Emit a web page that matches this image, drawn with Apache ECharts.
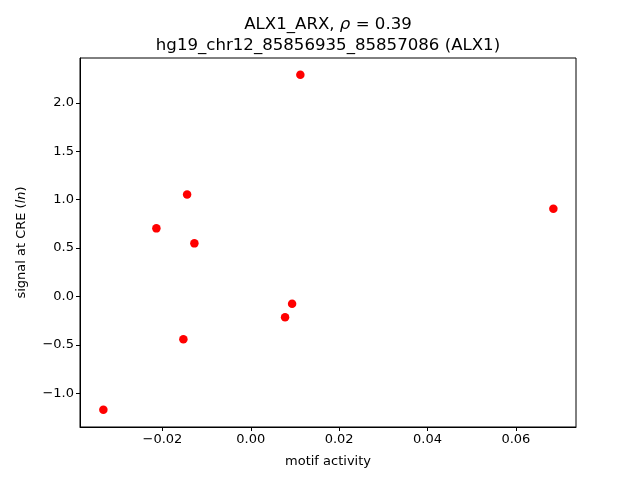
<!DOCTYPE html>
<html>
<head>
<meta charset="utf-8">
<script src="https://cdn.jsdelivr.net/npm/echarts@6/dist/echarts.min.js"></script>
<style>
  html, body { margin: 0; padding: 0; background: #fff; }
  #chart { width: 640px; height: 480px; }
</style>
</head>
<body>
<div id="chart"></div>
<script>
// motif activity vs signal at CRE
const motifActivity = [-0.03336, -0.02136, -0.01441, -0.01525, -0.01276, 0.00776, 0.00935, 0.01122, 0.06848];
const creSignal = [-1.171, 0.704, 1.055, -0.442, 0.549, -0.215, -0.074, 2.293, 0.906];
const xTicks = [-0.02, 0.00, 0.02, 0.04, 0.06];
const yTicks = [-1.0, -0.5, 0.0, 0.5, 1.0, 1.5, 2.0];

const font = "DejaVu Sans";
const minus = s => s.replace('-', '\u2212');

const option = {
  animation: false,
  textStyle: { fontFamily: font },
  title: {
    text: '{n|ALX1_ARX, }{i|ρ}{n| = 0.39}\n{n|hg19_chr12_85856935_85857086 (ALX1)}',
    left: 323,
    textAlign: 'center',
    top: 9,
    textStyle: {
      fontWeight: 'normal',
      rich: {
        n: { fontFamily: font, fontSize: 16.6, fontWeight: 'normal', color: '#000', lineHeight: 21 },
        i: { fontFamily: font, fontSize: 16.6, fontWeight: 'normal', color: '#000', fontStyle: 'italic', lineHeight: 21 }
      }
    }
  },
  grid: {
    left: 80, right: 64, top: 58, bottom: 53,
    show: true, borderColor: '#000', borderWidth: 1
  },
  xAxis: {
    type: 'value',
    min: -0.03865, max: 0.0736,
    name: 'motif activity',
    nameLocation: 'middle',
    nameGap: 28,
    nameTextStyle: { fontFamily: font, fontSize: 13, color: '#000' },
    axisLine: { show: true, onZero: false, lineStyle: { color: '#000', width: 1 } },
    axisTick: { show: true, customValues: xTicks, length: 4, lineStyle: { color: '#000' } },
    axisLabel: {
      customValues: xTicks, fontFamily: font, fontSize: 13, color: '#000', margin: 6,
      formatter: v => minus(v.toFixed(2))
    },
    splitLine: { show: false }
  },
  yAxis: {
    type: 'value',
    min: -1.349, max: 2.465,
    name: '{n|signal at CRE (}{i|ln}{n|)}',
    nameLocation: 'middle',
    nameGap: 52,
    nameTextStyle: {
      rich: {
        n: { fontFamily: font, fontSize: 13, color: '#000' },
        i: { fontFamily: font, fontSize: 13, color: '#000', fontStyle: 'italic' }
      }
    },
    axisLine: { show: true, onZero: false, lineStyle: { color: '#000', width: 1 } },
    axisTick: { show: true, customValues: yTicks, length: 4, lineStyle: { color: '#000' } },
    axisLabel: {
      customValues: yTicks, fontFamily: font, fontSize: 13, color: '#000', margin: 6,
      formatter: v => minus(v.toFixed(1))
    },
    splitLine: { show: false }
  },
  series: [{
    type: 'scatter',
    symbol: 'circle',
    symbolSize: 8.5,
    itemStyle: { color: '#ff0000', opacity: 1 },
    data: motifActivity.map((x, i) => [x, creSignal[i]])
  }]
};

const chartObj = echarts.init(document.getElementById('chart'));
chartObj.setOption(option);
</script>
</body>
</html>
